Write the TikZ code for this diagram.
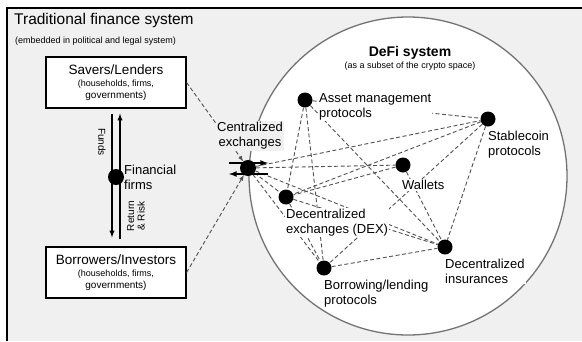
\documentclass[tikz,border=0pt]{standalone}
\usepackage{fontspec}
\setmainfont{Liberation Sans}
\usetikzlibrary{arrows,calc}
\definecolor{bgfill}{gray}{0.94}
\definecolor{rimgray}{gray}{0.45}
\definecolor{linkgray}{gray}{0.32}
\tikzset{
  dot/.style={circle,fill=black,inner sep=0pt,minimum size=15pt},
  lbl/.style={anchor=west,align=left,fill=white,inner sep=1pt,font=\fontsize{13}{15}\selectfont},
  link/.style={draw=linkgray,dash pattern=on 4pt off 2.5pt,line width=0.9pt},
  flow/.style={-latex,line width=1.3pt},
  box/.style={rectangle,draw,line width=1.2pt,fill=white,minimum width=140pt,minimum height=51pt,align=center}
}
\begin{document}
\begin{tikzpicture}[x=1pt,y=-1pt]
\useasboundingbox (0,0) rectangle (582,341);
\fill[bgfill] (7,8) rectangle (582,341);
\draw[line width=1.5pt] (7,341) -- (7,8) -- (582,8);
\node[anchor=west,inner sep=0pt,font=\fontsize{15.5}{17}\selectfont] (trad) at (14,20) {Traditional finance system};
\node[anchor=west,inner sep=0pt,font=\fontsize{9}{10}\selectfont] (tradsub) at (15,41) {(embedded in political and legal system)};

\draw[draw=rimgray,fill=white,line width=1.3pt] (408,176) circle (159pt);
\node[font=\bfseries\fontsize{14}{16}\selectfont] (defi) at (410,53) {DeFi system};
\node[font=\fontsize{9}{10}\selectfont] (defisub) at (410,66) {(as a subset of the crypto space)};

\node[box] (savers) at (116,82.5) {\fontsize{13.5}{15}\selectfont Savers/Lenders\\\fontsize{9}{12}\selectfont (households, firms,\\governments)};
\node[box] (borrowers) at (116,272.5) {\fontsize{13.5}{15}\selectfont Borrowers/Investors\\\fontsize{9}{12}\selectfont (households, firms,\\governments)};

\node[dot,minimum size=16pt] (ff) at (116,177) {};
\node[dot,minimum size=16pt] (cex) at (248,168) {};
\node[dot] (asset) at (305,100) {};
\node[dot] (stable) at (488,119) {};
\node[dot] (wallet) at (403,165) {};
\node[dot] (dex) at (286,197) {};
\node[dot] (lend) at (324,268) {};
\node[dot] (insur) at (445,247) {};

\draw[flow] ($(ff|-savers.south)+(-4,5)$) -- ($(ff|-borrowers.north)+(-4,-9)$);
\draw[flow] ($(ff|-borrowers.north)+(4,-7)$) -- ($(ff|-savers.south)+(4,5)$);
\node[rotate=-90,font=\fontsize{10}{11}\selectfont] (funds) at (102,142) {Funds};
\node[rotate=90,align=center,font=\fontsize{10}{10.5}\selectfont] (ret) at (136,216) {Return\\\& Risk};
\node[anchor=west,align=left,inner sep=1pt,font=\fontsize{13}{15}\selectfont] (fflbl) at (123,177.5) {Financial\\firms};

\draw[link,-latex] (savers.east) -- (cex);
\draw[link,-latex] (borrowers.east) -- (cex);

\draw[link] (cex) edge (stable) edge (wallet) edge (dex) edge (lend) edge (insur);
\draw[link] (asset) edge (stable) edge (dex) edge (lend) edge (insur);
\draw[link] (stable) edge (dex) edge (lend) edge (insur);
\draw[link] (wallet) edge (dex) edge (insur);
\draw[link] (dex) edge (lend) edge (insur);
\draw[link] (lend) edge (insur);

\draw[flow,line width=1.6pt] ($(cex)+(-19,-5)$) -- ($(cex)+(20,-5)$);
\draw[flow,line width=1.6pt] ($(cex)+(20,6)$) -- ($(cex)+(-19,6)$);

\node[align=center,fill=bgfill,inner sep=1pt,font=\fontsize{13}{15}\selectfont] (cexlbl) at (250,136) {Centralized\\exchanges};
\node[lbl] (assetlbl) at (318,107) {Asset management\\protocols};
\node[lbl] (stablelbl) at (487,145) {Stablecoin\\protocols};
\node[lbl] (walletlbl) at (401,185) {Wallets};
\node[lbl] (dexlbl) at (285,222.5) {Decentralized\\exchanges (DEX)};
\node[lbl] (lendlbl) at (323,293.5) {Borrowing/lending\\protocols};
\node[lbl] (insurlbl) at (444,271) {Decentralized\\insurances};
\end{tikzpicture}
\end{document}
